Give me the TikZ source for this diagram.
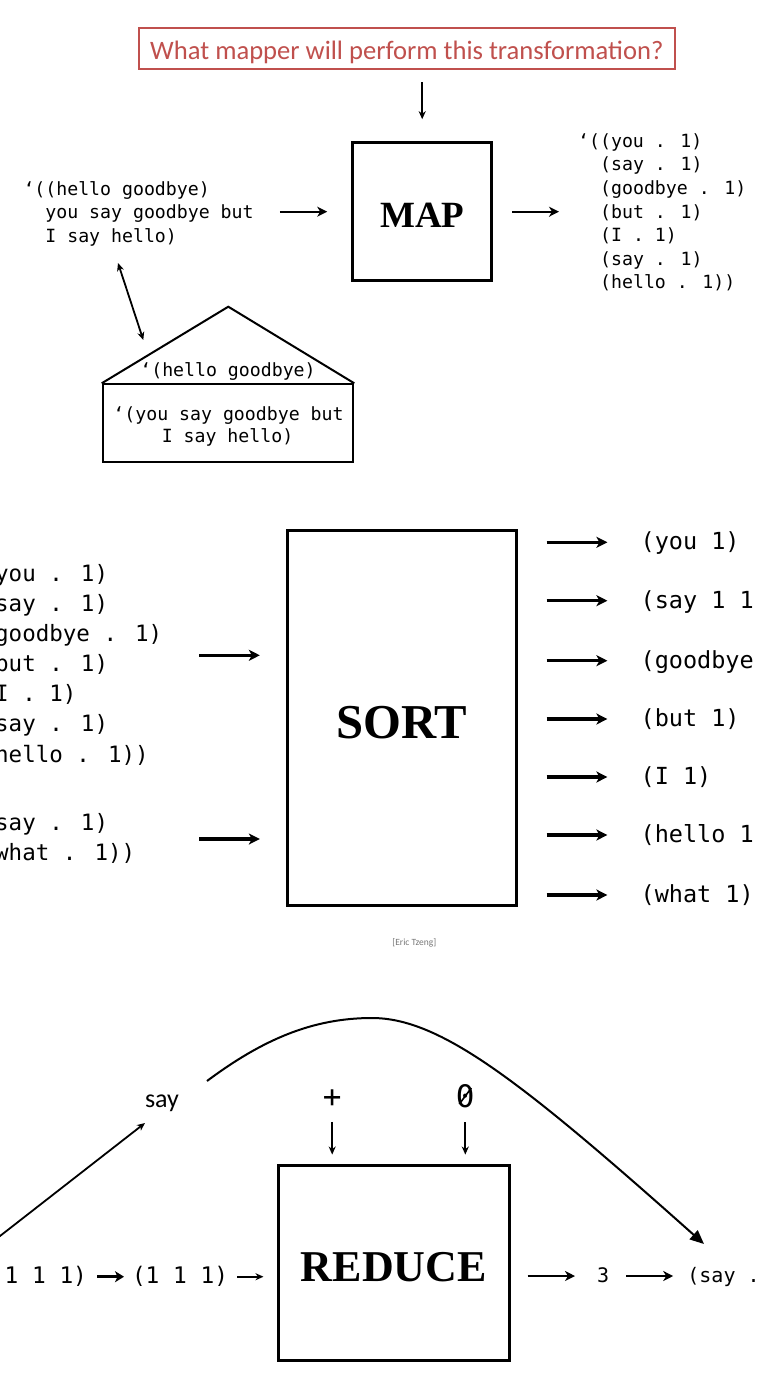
\documentclass[tikz,border=0pt]{standalone}
\usepackage{fontspec}
\setmainfont{Liberation Serif}
\newfontfamily\codefont{DejaVu Sans Mono}
\newfontfamily\calibfont{Carlito}
\newfontfamily\boxfont{Liberation Serif}
\usetikzlibrary{arrows.meta,calc}
\definecolor{titlered}{RGB}{192,80,77}
\definecolor{credgray}{RGB}{120,120,120}
\begin{document}
\begin{tikzpicture}[x=1pt,y=-1pt,
  procbox/.style={draw, line width=3pt, inner sep=0pt},
  codeS/.style={font=\codefont\fontsize{18.2pt}{22pt}\selectfont, inner sep=0pt, text depth=4.5pt, text height=16pt, anchor=west},
  codeL/.style={font=\codefont\fontsize{22.5pt}{27pt}\selectfont, inner sep=0pt, text depth=5.8pt, text height=20pt, anchor=west},
  codeM/.style={font=\codefont\fontsize{23.5pt}{28pt}\selectfont, inner sep=0pt, text depth=6pt, text height=20.8pt, anchor=west},
  codeR/.style={font=\codefont\fontsize{22.8pt}{27pt}\selectfont, inner sep=0pt, text depth=5.8pt, text height=20.2pt, anchor=west},
  thinarr/.style={line width=1.8pt, -{Stealth[length=8pt,width=7pt,inset=2.5pt]}},
  medarr/.style={line width=2.4pt, -{Stealth[length=10pt,width=10pt,inset=3pt]}},
  thickarr/.style={line width=3.5pt, -{Stealth[length=11pt,width=11pt,inset=3pt]}},
  boldarr/.style={line width=3pt, -{Stealth[length=9pt,width=11pt,inset=2.5pt]}}
]
\fill[white] (0,0) rectangle (757,1375);
\path[use as bounding box] (0,0) rectangle (757,1375);
\clip (0,0) rectangle (757,1375);

% ---------- Section 1: MAP ----------
\node[draw=titlered, line width=2.2pt, text=titlered, inner sep=0pt,
      font=\calibfont\fontsize{26.6pt}{30pt}\selectfont,
      minimum width=535.7pt, minimum height=40.9pt, text height=22.2pt, text depth=0pt]
      (q) at (406.8,48.5) {What mapper will perform this transformation?};

\node[procbox, minimum width=139pt, minimum height=138pt,
      font=\boxfont\bfseries\fontsize{37pt}{40pt}\selectfont, text height=31.2pt, text depth=0pt]
      (map) at (422.2,211.7) {MAP};

\draw[thinarr, shorten <=12pt, shorten >=22pt] (q.south -| map.north) -- (map.north);

\node[codeS] (in1) at (23.3,189.9) {‘((hello goodbye)};
\node[codeS] (in2) at (45.2,213.2) {you say goodbye but};
\node[codeS] (in3) at (45.2,236.5) {I say hello)};

\node[codeS] (out1) at (578,141.7) {‘((you . 1)};
\node[codeS] (out2) at (600,165.25) {(say . 1)};
\node[codeS] (out3) at (600,188.8) {(goodbye . 1)};
\node[codeS] (out4) at (600,212.35) {(but . 1)};
\node[codeS] (out5) at (600,235.9) {(I . 1)};
\node[codeS] (out6) at (600,259.45) {(say . 1)};
\node[codeS] (out7) at (600,283) {(hello . 1))};

\draw[medarr, shorten <=26pt, shorten >=24pt] (in2.east |- map.west) -- (map.west);
\draw[medarr, shorten <=19pt, shorten >=19pt] (map.east) -- (map.east -| out1.west);

% house
\node[draw, line width=2pt, minimum width=250.6pt, minimum height=78pt, inner sep=0pt] (hbody) at (228,423.3) {};
\coordinate (apex) at (228.3,306.7);
\draw[line width=2pt, line join=miter] (hbody.north west) -- (apex) -- (hbody.north east);
\node[codeS, anchor=center] (hroof) at (228,370.7) {‘(hello goodbye)};
\node[codeS, anchor=center] (hb1) at (228.5,414.3) {‘(you say goodbye but};
\node[codeS, anchor=center] (hb2) at (227.5,436.7) {I say hello)};

\coordinate (dtop) at (118,263);
\coordinate (dbot) at (143.3,340);
\draw[line width=1.8pt, {Stealth[length=8pt,width=7pt,inset=2.5pt]}-{Stealth[length=8pt,width=7pt,inset=2.5pt]}] (dtop) -- (dbot);

% ---------- Section 2: SORT ----------
\node[procbox, minimum width=228.7pt, minimum height=374.3pt,
      font=\boxfont\bfseries\fontsize{48.7pt}{52pt}\selectfont, text height=40.5pt, text depth=0pt]
      (sort) at (401.7,717.9) {SORT};

\node[codeL] (l1) at (-5,574) {you . 1)};
\node[codeL] (l2) at (-5,604) {say . 1)};
\node[codeL] (l3) at (-5,634) {goodbye . 1)};
\node[codeL] (l4) at (-5,664) {but . 1)};
\node[codeL] (l5) at (-5,694) {I . 1)};
\node[codeL] (l6) at (-5,724) {say . 1)};
\node[codeL] (l7) at (-5,755) {hello . 1))};
\node[codeL] (l8) at (-5,823) {say . 1)};
\node[codeL] (l9) at (-5,853) {what . 1))};

\coordinate (g1) at (199,655.3);
\coordinate (g2) at (199,839);
\draw[thickarr, shorten >=26pt] (g1) -- (g1 -| sort.west);
\draw[thickarr, shorten >=26pt] (g2) -- (g2 -| sort.west);

\node[codeM] (o1) at (640.4,542.3) {(you 1)};
\node[codeM] (o2) at (640.4,600.7) {(say 1 1};
\node[codeM] (o3) at (640.4,660.7) {(goodbye};
\node[codeM] (o4) at (640.4,719) {(but 1)};
\node[codeM] (o5) at (640.4,777) {(I 1)};
\node[codeM] (o6) at (640.4,835) {(hello 1};
\node[codeM] (o7) at (640.4,895) {(what 1)};
\foreach \o in {o1,o2,o3,o4,o5,o6,o7}
  \draw[thickarr, shorten <=29pt, shorten >=33pt] (\o.west -| sort.east) -- (\o.west);

\node[font=\calibfont\fontsize{9.5pt}{11pt}\selectfont, text=credgray] (cred) at (414.3,942.5) {[Eric Tzeng]};

% ---------- Section 3: REDUCE ----------
\node[procbox, minimum width=231pt, minimum height=195.7pt,
      font=\boxfont\bfseries\fontsize{44pt}{47pt}\selectfont, text height=36.7pt, text depth=0pt]
      (reduce) at (393.8,1262.9) {REDUCE};

\node[font=\codefont\fontsize{31pt}{34pt}\selectfont, inner sep=0pt, anchor=base] (plus) at (332.2,1107) {+};
\node[font=\codefont\fontsize{31pt}{34pt}\selectfont, inner sep=0pt, anchor=base] (zero) at (465.3,1107) {0};
\draw[line width=1.6pt] ($(zero.base)+(-6,-3)$) -- ($(zero.base)+(6,-19)$);
\draw[thinarr, shorten <=14.7pt, shorten >=9pt] (plus.south) -- (plus.south |- reduce.north);
\draw[thinarr, shorten <=14.7pt, shorten >=9pt] (zero.south) -- (zero.south |- reduce.north);

\node[font=\calibfont\fontsize{26pt}{30pt}\selectfont, inner sep=0pt, anchor=base] (saylbl) at (162,1107.3) {say};

\node[codeR] (r1) at (4.4,1276.7) {1 1 1)};
\node[codeR] (r2) at (131.8,1276.7) {(1 1 1)};
\node[font=\codefont\fontsize{20pt}{24pt}\selectfont, inner sep=0pt, text depth=5pt, text height=17.6pt, anchor=west] (three) at (597,1276) {3};
\node[font=\codefont\fontsize{20pt}{24pt}\selectfont, inner sep=0pt, text depth=5pt, text height=17.6pt, anchor=west] (sayres) at (687.2,1276) {(say .};

\draw[boldarr, shorten <=10pt, shorten >=7.8pt] (r1.east) -- (r2.west);
\draw[thinarr, line width=2pt, shorten <=9pt, shorten >=13.3pt] (r2.east) -- (r2.east -| reduce.west);
\draw[medarr, shorten <=16.7pt, shorten >=22pt] (reduce.east |- three.west) -- (three.west);
\draw[medarr, shorten <=17pt, shorten >=14pt] (three.east) -- (sayres.west);

\coordinate (ls) at (-20,1251.6);
\coordinate (le) at (145,1123);
\draw[thinarr] (ls) -- (le);

\coordinate (cs) at (207,1081);
\coordinate (cpk) at (372,1018);
\coordinate (ce) at (704,1244);
\draw[line width=2pt, -{Triangle[length=14pt,width=12pt]}]
  (cs) .. controls (262,1040) and (312,1018) .. (cpk)
       .. controls (440,1018) and (520,1080) .. (ce);
\end{tikzpicture}
\end{document}
